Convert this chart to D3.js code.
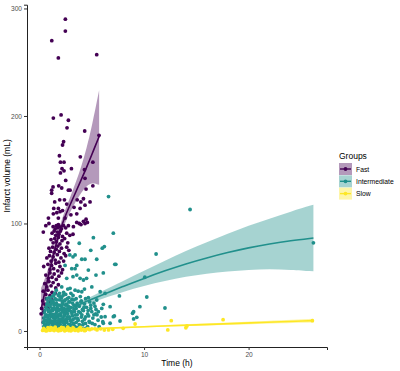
<!DOCTYPE html>
<html>
<head>
<meta charset="utf-8">
<script src="https://cdn.jsdelivr.net/npm/d3@7"></script>
<style>
  body { margin: 0; background: #fff; }
  svg { font-family: "Liberation Sans", Arial, sans-serif; }
</style>
</head>
<body>
<div id="chart"></div>
<script>
// groups and colours (viridis)
const groups = ["Fast", "Intermediate", "Slow"];
const colors = ["#440154", "#21908C", "#FDE725"];

const xTicks = [0, 10, 20];
const yTicks = [0, 100, 200, 300];

// points: [time (h), volume (mL)]
const fastPts = [
  [2.47,290],[2.47,279],[1.17,270],[1.8,254],[5.47,257],
  [1.32,198],[2.06,201],[2.76,196],[2.63,189],[4.32,186],[5.69,182],
  [2.3,176],[2.2,173],[1.9,163],[3.9,162],[2.0,157],[2.34,157],[5.1,157],
  [2.15,151],[2.34,149],[2.0,147],[3.05,151],[4.3,150],
  [4.35,142],[1.29,134],[1.83,135],[2.12,133],[2.76,131],[1.16,131],[1.16,128],[4.45,132],[5.1,135],
  [1.45,120],[1.93,122],[2.38,122],[3.6,122],[3.95,120],[4.35,117],
  [1.36,114],[1.8,114],[1.65,110],[1.96,111],[2.2,112],[1.32,109],[0.85,105],[1.8,105],[2.44,105],[3.56,109],
  [0.6,98],[0.9,100],[1.8,99],[3.56,101],[3.97,99],[4.35,100],[4.57,101],[3.2,90],[0.36,92],
  [3.88,114],[4.2,123],[2.92,131],[4.83,120],[4.45,104],[4.2,102],[3.8,100],[3.24,97],[2.76,98],[3.0,108],[2.6,118],[2.5,140],[3.3,115],
  [1.3,97],[1.5,95],[1.6,98],[1.75,96],[1.9,97],[2.1,95],[2.3,98],[2.5,96],
  [1.2,91],[1.4,93],[1.55,89],[1.7,92],[1.85,90],[2.0,93],[2.2,88],[2.6,91],[2.9,89],
  [1.1,85],[1.3,82],[1.45,86],[1.6,83],[1.8,87],[1.95,81],[2.15,84],[2.4,86],[2.7,82],
  [0.9,77],[1.05,74],[1.25,78],[1.4,73],[1.6,76],[1.75,79],[1.9,74],[2.1,77],[2.35,72],[2.6,78],[2.8,75],
  [0.7,68],[0.95,70],[1.1,65],[1.3,69],[1.5,66],[1.7,71],[1.85,64],[2.05,68],[2.3,65],[2.5,70],
  [0.4,60],[0.8,62],[1.0,57],[1.15,61],[1.35,58],[1.55,63],[1.75,56],[1.95,60],[2.2,57],
  [0.6,52],[0.85,49],[1.0,54],[1.2,50],[1.4,53],[1.6,48],[1.85,51],[2.1,54],
  [0.5,44],[0.7,41],[0.9,46],[1.1,42],[1.3,45],[1.55,40],[1.8,43],
  [0.35,37],[0.6,34],[0.8,38],[1.0,33],[1.2,36],[1.5,35],
  [0.3,28],[0.5,25],[0.7,30],[0.95,27],[1.2,29],
  [0.15,16],[0.2,21],[0.4,18],[0.6,14],[0.85,22]
];

const interPts = [
  [6.6,125],[14.4,113],[7.06,91],[5.15,86.8],[3.8,81.6],[6.0,77],[6.2,78.5],[4.9,75],[3.4,70.7],
  [4.04,66.7],[4.35,66.7],[5.47,66.7],[7.3,62],[3.56,61],[3.4,58],[4.67,56.7],[5.4,52],[6.1,54],
  [3.88,49],[4.2,47.4],[4.5,49],[3.2,50.5],[5.0,41],[3.4,38],[4.04,36.5],[5.8,36.5],[6.27,35],
  [7.64,32.6],[4.67,31],[5.47,28.8],[6.1,24.8],[6.75,22.6],[5.63,18],[5.95,21],[7.06,13.3],
  [8.9,16.5],[9.6,22.6],[9.0,11.2],[9.3,12.7],[7.7,9.3],[6.1,7.2],[6.75,7.2],[11.15,71.6],
  [26.2,82],[10.07,50],[10.26,31.6],[12.0,21.4],[7.16,14],[9.0,18],[7.2,62],[5.37,15.8],
  [6.27,13.3],[6.05,8.7],
  [3.2,69],[2.44,61],[3.08,58],[3.56,52],[2.6,49],[2.12,41],[2.92,39.7],[2.9,70.7],
  [1.6,38],[2.3,36],[2.7,39],[3.0,35],[3.7,37],[4.3,39],[1.9,35],
  [1.2,32],[1.5,30],[1.8,33],[2.1,31],[2.5,34],[2.8,31],[3.2,33],[3.5,30],[3.9,32],[4.4,30],[0.9,31],
  [0.8,27],[1.1,25],[1.3,28],[1.6,26],[1.9,29],[2.2,26],[2.4,28],[2.6,25],[2.9,27],[3.3,29],
  [3.6,26],[4.0,28],[4.3,25],[4.8,27],[5.2,26],
  [0.6,22],[0.8,20],[1.0,23],[1.2,21],[1.4,24],[1.7,22],[1.9,20],[2.1,23],[2.3,21],[2.5,24],
  [2.75,20],[3.0,22],[3.3,24],[3.5,21],[3.8,23],[4.1,20],[4.5,22],[4.9,21],[5.3,23],
  [0.45,17],[0.65,15],[0.85,18],[1.05,16],[1.25,19],[1.45,15],[1.6,17],[1.8,19],[2.0,16],
  [2.2,18],[2.4,15],[2.6,17],[2.85,19],[3.1,16],[3.35,18],[3.6,15],[3.9,17],[4.2,19],[4.6,16],
  [5.0,18],[5.5,15],
  [0.4,12],[0.55,10],[0.75,13],[0.95,11],[1.15,14],[1.35,12],[1.5,10],[1.7,13],[1.9,11],
  [2.05,14],[2.25,12],[2.45,10],[2.65,13],[2.9,11],[3.15,14],[3.4,12],[3.7,10],[4.0,13],
  [4.3,11],[4.7,14],[5.1,12],[5.6,10],
  [0.35,8],[0.5,6],[0.7,9],[0.9,7],[1.1,8],[1.3,6],[1.45,9],[1.65,7],[1.85,8],[2.0,6],[2.2,9],
  [2.4,7],[2.6,8],[2.8,6],[3.0,9],[3.25,7],[3.5,8],[3.8,6],[4.1,9],[4.4,7],[4.8,8],[5.3,6],
  [0.4,4],[0.6,3],[0.8,5],[1.0,2.5],[1.2,4],[1.4,3],[1.6,5],[1.8,2.5],[2.0,4],[2.2,3],[2.4,5],
  [2.6,2.5],[2.8,4],[3.0,3],[3.3,5],[3.6,3],[3.9,4],[4.2,2.5],[4.6,4],
  [1.35,26],[1.55,20],[1.75,14],[1.95,24],[2.15,28],[2.35,17],[2.55,11],[2.75,23],[1.25,9],
  [1.85,5],[2.45,19],[2.05,9],[1.65,29],[2.25,33],[0.95,19],[1.05,29],[3.15,26],[2.65,30],
  [1.45,35],[0.7,25],
  [0.55,14],[0.75,7],[0.85,24],[1.0,9.5],[1.1,18.5],[1.2,5.5],[1.3,15.5],[1.4,21],[1.5,7.5],
  [1.55,12.5],[1.65,3.5],[1.7,24.5],[1.8,9.5],[1.9,15],[1.95,32],[2.05,20],[2.1,4.5],[2.15,11],
  [2.25,25],[2.3,7.5],[2.35,14],[2.45,29],[2.5,4],[2.55,20.5],[2.6,9],[2.7,16],[2.8,27],
  [2.85,13],[2.95,6],[3.05,18],[3.1,29.5],[3.2,10.5],[3.3,20],[3.4,4],[3.45,15],[3.55,24],
  [3.65,11.5],[3.75,18],[3.85,5],[3.95,27],[4.05,15],[4.15,6],[4.25,22],[4.4,13],[4.55,3],
  [4.65,19],[4.75,9],[4.9,24],[5.05,7],[5.2,15],[5.4,20],[5.7,4],[5.9,13],[0.5,19],[0.65,30],
  [0.9,14.5],[1.15,27],[1.35,33],[0.45,9],[0.6,5]
];

const slowPts = [
  [5.0,2],[5.3,2],[5.85,2],[6.6,1],[9.14,6.5],[12.6,9.6],[12.27,1],[14.1,4.7],[14.0,3],
  [17.56,10.5],[26.1,9.6],[7.0,1.5],[8.0,2.5],
  [0.3,0.5],[0.5,1.2],[0.7,0.3],[0.9,1.8],[1.0,0.6],[1.2,1.1],[1.3,2.4],[1.4,0.4],[1.6,1.5],
  [1.7,0.8],[1.9,2.0],[2.0,0.5],[2.2,1.3],[2.3,2.8],[2.5,0.7],[2.6,1.6],[2.8,0.4],[2.9,2.2],
  [3.1,1.0],[3.3,1.9],[3.4,0.5],[3.6,1.3],[3.8,2.5],[4.0,0.8],[4.2,1.7],[4.4,0.6],[4.6,2.1],
  [4.8,1.2],[0.4,2.5],[0.8,3.2],[1.1,3.0],[1.5,3.5],[2.1,3.3],[2.7,3.6],[3.2,3.0],[3.9,3.4],
  [0.6,0.1],[1.8,0.2],[2.4,0.1],[3.0,0.2],[3.7,0.1],[4.3,0.3],[5.5,1.0],[6.2,0.8]
];

// smooth fits: time, fit, lower, upper
const fastFitT  = [0.15, 0.5, 1.0, 1.5, 2.0, 2.5, 3.0, 3.5, 4.0, 4.5, 5.0, 5.7];
const fastFit   = [20, 36, 58, 78, 95, 108, 119, 130, 141, 152, 164, 181];
const fastLo    = [3, 24, 52, 73, 90, 102, 112, 121, 129, 135, 138, 136];
const fastHi    = [40, 48, 64, 83, 100, 114, 126, 139, 153, 170, 190, 224];

const interFitT = [0.3, 1, 2, 3, 4, 5, 6, 8, 10, 12, 14, 16, 18, 20, 22, 24, 26.2];
const interFit  = [9, 12, 16.5, 21, 25.5, 29.5, 33.5, 41.5, 49, 56, 62.5, 68, 73, 77.5, 81, 84, 86.5];
const interLo   = [5, 9, 14.3, 19, 23.3, 26.7, 30, 36.5, 42, 46.5, 50.5, 53.5, 55.5, 57, 57.5, 57, 55.5];
const interHi   = [13, 15, 18.7, 23, 27.7, 32.3, 37, 46.5, 56, 65.5, 74.5, 82.5, 90.5, 98, 104.5, 111, 117.5];

const slowFitT  = [0.3, 2, 5, 10, 15, 20, 26.2];
const slowFit   = [0.4, 1.0, 2.1, 3.9, 5.7, 7.5, 9.6];
const slowLo    = [-0.4, 0.4, 1.5, 3.2, 4.8, 6.3, 7.8];
const slowHi    = [1.2, 1.6, 2.7, 4.6, 6.6, 8.7, 11.4];

const pointSets = [fastPts, interPts, slowPts];
const fits = [
  { t: fastFitT, v: fastFit, lo: fastLo, hi: fastHi },
  { t: interFitT, v: interFit, lo: interLo, hi: interHi },
  { t: slowFitT, v: slowFit, lo: slowLo, hi: slowHi }
];

const W = 400, H = 371;
const panel = { left: 27, right: 327, top: 4.7, bottom: 347 };

const svg = d3.select("#chart").append("svg")
  .attr("width", W)
  .attr("height", H);

const x = d3.scaleLinear().domain([-1.2, 27.5]).range([panel.left, panel.right]);
const y = d3.scaleLinear().domain([-14.9, 303.5]).range([panel.bottom, panel.top]);

// points
pointSets.forEach((pts, i) => {
  svg.append("g").selectAll("circle")
    .data(pts)
    .join("circle")
    .attr("cx", d => x(d[0]))
    .attr("cy", d => y(d[1]))
    .attr("r", 1.9)
    .attr("fill", colors[i]);
});

// smooth bands + lines
fits.forEach((f, i) => {
  const rows = f.t.map((t, k) => ({ t, v: f.v[k], lo: f.lo[k], hi: f.hi[k] }));
  svg.append("path")
    .datum(rows)
    .attr("fill", colors[i])
    .attr("fill-opacity", 0.4)
    .attr("d", d3.area()
      .curve(d3.curveBasis)
      .x(d => x(d.t))
      .y0(d => y(d.lo))
      .y1(d => y(d.hi)));
  svg.append("path")
    .datum(rows)
    .attr("fill", "none")
    .attr("stroke", colors[i])
    .attr("stroke-width", 1.6)
    .attr("d", d3.line()
      .curve(d3.curveBasis)
      .x(d => x(d.t))
      .y(d => y(d.v)));
});

// axes
const xAxis = svg.append("g")
  .attr("transform", `translate(0,${panel.bottom})`)
  .call(d3.axisBottom(x).tickValues(xTicks).tickSize(3).tickPadding(2));
const yAxis = svg.append("g")
  .attr("transform", `translate(${panel.left},0)`)
  .call(d3.axisLeft(y).tickValues(yTicks).tickSize(3).tickPadding(2));

[xAxis, yAxis].forEach(a => {
  a.select(".domain").attr("stroke", "#222").attr("stroke-width", 1);
  a.selectAll(".tick line").attr("stroke", "#333");
  a.selectAll(".tick text")
    .attr("fill", "#4d4d4d")
    .style("font-size", "6.6px")
    .style("font-family", "'Liberation Sans', Arial, sans-serif");
});

svg.append("text")
  .attr("x", (panel.left + panel.right) / 2)
  .attr("y", 366)
  .attr("text-anchor", "middle")
  .style("font-size", "8.5px")
  .text("Time (h)");

svg.append("text")
  .attr("transform", `translate(10,${(panel.top + panel.bottom) / 2}) rotate(-90)`)
  .attr("text-anchor", "middle")
  .style("font-size", "8.5px")
  .text("Infarct volume (mL)");

// legend
const legend = svg.append("g").attr("transform", "translate(339,150)");
legend.append("text")
  .attr("x", 0)
  .attr("y", 9)
  .style("font-size", "8.5px")
  .text("Groups");

groups.forEach((g, i) => {
  const row = legend.append("g").attr("transform", `translate(0,${13 + i * 12.3})`);
  row.append("rect")
    .attr("width", 13).attr("height", 12)
    .attr("fill", colors[i]).attr("fill-opacity", 0.4);
  row.append("line")
    .attr("x1", 1).attr("x2", 12).attr("y1", 6).attr("y2", 6)
    .attr("stroke", colors[i]).attr("stroke-width", 1.4);
  row.append("circle")
    .attr("cx", 6.5).attr("cy", 6).attr("r", 1.9)
    .attr("fill", colors[i]);
  row.append("text")
    .attr("x", 17)
    .attr("y", 8.5)
    .style("font-size", "6.8px")
    .text(g);
});
</script>
</body>
</html>
